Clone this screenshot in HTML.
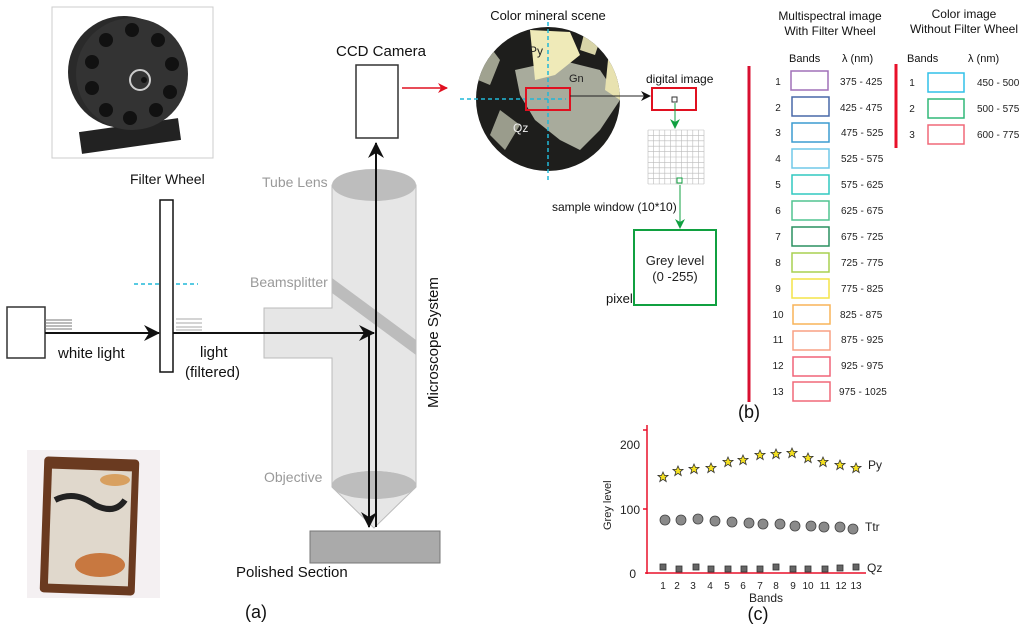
<!DOCTYPE html>
<html><head><meta charset="utf-8"><style>
html,body{margin:0;padding:0;background:#fff;}
svg{display:block;font-family:"Liberation Sans",sans-serif;}
</style></head><body>
<svg width="1024" height="633" viewBox="0 0 1024 633" xmlns="http://www.w3.org/2000/svg">
<defs>
<marker id="ab" markerWidth="10" markerHeight="10" refX="9" refY="5" orient="auto" markerUnits="userSpaceOnUse"><path d="M0,0 L10,5 L0,10 L3,5 z" fill="#111"/></marker>
<marker id="ab2" markerWidth="16" markerHeight="16" refX="15" refY="8" orient="auto" markerUnits="userSpaceOnUse"><path d="M0,0 L16,8 L0,16 L5,8 z" fill="#111"/></marker>
<marker id="ar" markerWidth="10" markerHeight="10" refX="9" refY="5" orient="auto" markerUnits="userSpaceOnUse"><path d="M0,0 L10,5 L0,10 L3,5 z" fill="#e01020"/></marker>
<marker id="ag" markerWidth="10" markerHeight="10" refX="9" refY="5" orient="auto" markerUnits="userSpaceOnUse"><path d="M0,0 L10,5 L0,10 L3,5 z" fill="#10a040"/></marker>
<clipPath id="cc"><circle cx="548" cy="99" r="72"/></clipPath>
</defs>

<!-- Filter wheel photo -->
<rect x="52" y="7" width="161" height="151" fill="#fff" stroke="#ccc"/>
<rect x="80" y="125" width="100" height="22" fill="#222" transform="rotate(-8 130 136)"/>
<circle cx="124" cy="72" r="56" fill="#2a2a2a"/>
<circle cx="132" cy="74" r="56" fill="#333"/>
<g fill="#111">
<circle cx="132" cy="30" r="7"/><circle cx="158" cy="40" r="7"/><circle cx="172" cy="64" r="7"/><circle cx="170" cy="92" r="7"/><circle cx="156" cy="110" r="7"/><circle cx="130" cy="118" r="7"/><circle cx="106" cy="110" r="7"/><circle cx="92" cy="88" r="7"/><circle cx="92" cy="62" r="7"/><circle cx="106" cy="40" r="7"/></g>
<circle cx="140" cy="80" r="10" fill="none" stroke="#ccc" stroke-width="2"/>
<circle cx="144" cy="80" r="3" fill="#111"/>

<!-- light source -->
<rect x="7" y="307" width="38" height="51" fill="#fff" stroke="#333" stroke-width="1.5"/>
<g stroke="#777" stroke-width="1"><line x1="45" y1="320" x2="72" y2="320"/><line x1="45" y1="323" x2="72" y2="323"/><line x1="45" y1="326" x2="72" y2="326"/><line x1="45" y1="329" x2="72" y2="329"/></g>
<line x1="45" y1="333" x2="159" y2="333" stroke="#111" stroke-width="2" marker-end="url(#ab2)"/>
<text x="58" y="358" font-size="15" fill="#111">white light</text>
<text x="130" y="184" font-size="14" fill="#111">Filter Wheel</text>
<line x1="134" y1="284" x2="198" y2="284" stroke="#20b8d8" stroke-width="1.5" stroke-dasharray="4,3"/>
<rect x="160" y="200" width="13" height="172" fill="#fff" stroke="#111" stroke-width="1.5"/>
<g stroke="#aaa"><line x1="176" y1="319" x2="202" y2="319"/><line x1="176" y1="323" x2="202" y2="323"/><line x1="176" y1="327" x2="202" y2="327"/><line x1="176" y1="330" x2="202" y2="330"/></g>
<text x="200" y="357" font-size="15" fill="#111">light</text>
<text x="185" y="377" font-size="15" fill="#111">(filtered)</text>

<!-- microscope -->
<path d="M332,185 L416,185 L416,487 L374,528 L332,487 L332,358 L264,358 L264,308 L332,308 Z" fill="#e6e6e6" stroke="#bbb"/>
<ellipse cx="374" cy="185" rx="42" ry="16" fill="#bdbdbd"/>
<path d="M332,487 A42,16 0 0 1 416,487 L416,487 A42,8 0 0 1 332,487" fill="#bdbdbd"/>
<ellipse cx="374" cy="485" rx="42" ry="14" fill="#bdbdbd"/>
<polygon points="332,278 416,340 416,355 332,293" fill="#bcbcbc"/>
<text x="262" y="187" font-size="14" fill="#999">Tube Lens</text>
<text x="250" y="287" font-size="14" fill="#999">Beamsplitter</text>
<text x="264" y="482" font-size="14" fill="#999">Objective</text>
<text transform="translate(438,408) rotate(-90)" font-size="15" fill="#111">Microscope System</text>
<line x1="173" y1="333" x2="374" y2="333" stroke="#111" stroke-width="2" marker-end="url(#ab2)"/>
<line x1="376" y1="527" x2="376" y2="143" stroke="#111" stroke-width="2" marker-end="url(#ab2)"/>
<line x1="369" y1="333" x2="369" y2="527" stroke="#111" stroke-width="2" marker-end="url(#ab2)"/>
<rect x="310" y="531" width="130" height="32" fill="#aaa" stroke="#777"/>
<rect x="356" y="65" width="42" height="73" fill="#fff" stroke="#333" stroke-width="1.5"/>
<text x="381" y="56" font-size="15" fill="#111" text-anchor="middle">CCD Camera</text>
<line x1="402" y1="88" x2="447" y2="88" stroke="#e01020" stroke-width="1.5" marker-end="url(#ar)"/>

<!-- polished section photo -->
<rect x="27" y="450" width="133" height="148" fill="#f4f0f2"/>
<rect x="42" y="458" width="95" height="136" rx="4" fill="#6a3a20" transform="rotate(2 90 526)"/>
<rect x="50" y="470" width="80" height="115" fill="#e0d8cc" transform="rotate(2 90 526)"/>
<path d="M55,500 q20,-10 40,5 q20,10 30,-5" stroke="#222" stroke-width="6" fill="none"/>
<ellipse cx="100" cy="565" rx="25" ry="12" fill="#c87840"/>
<ellipse cx="115" cy="480" rx="15" ry="6" fill="#d8a060"/>
<text x="236" y="577" font-size="15" fill="#111">Polished Section</text>
<text x="245" y="618" font-size="18" fill="#111">(a)</text>

<!-- mineral scene -->
<text x="548" y="20" font-size="13" fill="#111" text-anchor="middle">Color mineral scene</text>
<g clip-path="url(#cc)">
<rect x="470" y="20" width="160" height="160" fill="#1e1e1c"/>
<polygon points="515,70 560,60 600,70 620,100 600,130 580,150 560,140 535,120 520,95" fill="#a8ab9c"/>
<polygon points="530,30 570,32 580,55 555,75 535,80" fill="#efeab8"/>
<polygon points="485,40 500,60 490,85 478,80" fill="#a0a290"/>
<polygon points="610,40 625,60 620,100 605,90" fill="#e8e2b0"/>
<polygon points="500,110 520,125 505,150 490,135" fill="#9a9c8c"/>
<polygon points="585,30 600,40 595,55 580,50" fill="#d8d4a8"/>
</g>
<text x="529" y="55" font-size="12" fill="#222">Py</text>
<text x="569" y="82" font-size="11" fill="#222">Gn</text>
<text x="513" y="132" font-size="12" fill="#eee">Qz</text>
<line x1="548" y1="22" x2="548" y2="182" stroke="#20b8d8" stroke-width="1.5" stroke-dasharray="4,3"/>
<line x1="460" y1="99" x2="566" y2="99" stroke="#20b8d8" stroke-width="1.5" stroke-dasharray="4,3"/>
<rect x="526" y="88" width="44" height="22" fill="none" stroke="#e01020" stroke-width="2"/>
<line x1="570" y1="96" x2="650" y2="96" stroke="#222" stroke-width="1" marker-end="url(#ab)"/>
<text x="646" y="83" font-size="12" fill="#111">digital image</text>
<rect x="652" y="88" width="44" height="22" fill="none" stroke="#e01020" stroke-width="2"/>
<rect x="672" y="97" width="5" height="5" fill="none" stroke="#333"/>
<line x1="675" y1="103" x2="675" y2="128" stroke="#10a040" stroke-width="1" marker-end="url(#ag)"/>
<g stroke="#bbb" stroke-width="0.6">
<path d="M648,130 h56 M648,135.4 h56 M648,140.8 h56 M648,146.2 h56 M648,151.6 h56 M648,157 h56 M648,162.4 h56 M648,167.8 h56 M648,173.2 h56 M648,178.6 h56 M648,184 h56"/>
<path d="M648,130 v54 M653.6,130 v54 M659.2,130 v54 M664.8,130 v54 M670.4,130 v54 M676,130 v54 M681.6,130 v54 M687.2,130 v54 M692.8,130 v54 M698.4,130 v54 M704,130 v54"/>
</g>
<rect x="677" y="178" width="5" height="5" fill="#fff" stroke="#10a040"/>
<line x1="680" y1="185" x2="680" y2="228" stroke="#10a040" stroke-width="1" marker-end="url(#ag)"/>
<text x="552" y="211" font-size="12" fill="#111">sample window (10*10)</text>
<rect x="634" y="230" width="82" height="75" fill="#fff" stroke="#10a040" stroke-width="2"/>
<text x="675" y="265" font-size="13" fill="#222" text-anchor="middle">Grey level</text>
<text x="675" y="281" font-size="13" fill="#222" text-anchor="middle">(0 -255)</text>
<text x="606" y="303" font-size="13" fill="#111">pixel</text>

<!-- (b) -->
<text x="830" y="20" font-size="12" fill="#111" text-anchor="middle">Multispectral image</text>
<text x="830" y="35" font-size="12" fill="#111" text-anchor="middle">With Filter Wheel</text>
<text x="964" y="18" font-size="12" fill="#111" text-anchor="middle">Color image</text>
<text x="964" y="33" font-size="12" fill="#111" text-anchor="middle">Without Filter Wheel</text>
<text x="789" y="62" font-size="11" fill="#111">Bands</text>
<text x="842" y="62" font-size="11" fill="#111">λ (nm)</text>
<text x="907" y="62" font-size="11" fill="#111">Bands</text>
<text x="968" y="62" font-size="11" fill="#111">λ (nm)</text>
<line x1="749" y1="66" x2="749" y2="402" stroke="#d81030" stroke-width="3"/>
<line x1="896" y1="64" x2="896" y2="148" stroke="#e8102a" stroke-width="3"/>
<g font-size="10" fill="#222">
<text x="778" y="85" text-anchor="middle">1</text><rect x="791" y="71" width="37" height="19" fill="none" stroke="#a070b8" stroke-width="1.5"/><text x="840" y="85">375 - 425</text>
<text x="778" y="111" text-anchor="middle">2</text><rect x="792" y="97" width="37" height="19" fill="none" stroke="#4868a8" stroke-width="1.5"/><text x="840" y="111">425 - 475</text>
<text x="778" y="136" text-anchor="middle">3</text><rect x="792" y="123" width="37" height="19" fill="none" stroke="#3c9cd0" stroke-width="1.5"/><text x="841" y="136">475 - 525</text>
<text x="778" y="162" text-anchor="middle">4</text><rect x="792" y="149" width="37" height="19" fill="none" stroke="#70c8e8" stroke-width="1.5"/><text x="841" y="162">525 - 575</text>
<text x="778" y="188" text-anchor="middle">5</text><rect x="792" y="175" width="37" height="19" fill="none" stroke="#30c8c0" stroke-width="1.5"/><text x="841" y="188">575 - 625</text>
<text x="778" y="214" text-anchor="middle">6</text><rect x="792" y="201" width="37" height="19" fill="none" stroke="#50c490" stroke-width="1.5"/><text x="841" y="214">625 - 675</text>
<text x="778" y="240" text-anchor="middle">7</text><rect x="792" y="227" width="37" height="19" fill="none" stroke="#2a9060" stroke-width="1.5"/><text x="841" y="240">675 - 725</text>
<text x="778" y="266" text-anchor="middle">8</text><rect x="792" y="253" width="37" height="19" fill="none" stroke="#a8d050" stroke-width="1.5"/><text x="841" y="266">725 - 775</text>
<text x="778" y="292" text-anchor="middle">9</text><rect x="792" y="279" width="37" height="19" fill="none" stroke="#f4e448" stroke-width="1.5"/><text x="841" y="292">775 - 825</text>
<text x="778" y="318" text-anchor="middle">10</text><rect x="793" y="305" width="37" height="19" fill="none" stroke="#f8b458" stroke-width="1.5"/><text x="840" y="318">825 - 875</text>
<text x="778" y="343" text-anchor="middle">11</text><rect x="793" y="331" width="37" height="19" fill="none" stroke="#f8a084" stroke-width="1.5"/><text x="841" y="343">875 - 925</text>
<text x="778" y="369" text-anchor="middle">12</text><rect x="793" y="357" width="37" height="19" fill="none" stroke="#f06478" stroke-width="1.5"/><text x="841" y="369">925 - 975</text>
<text x="778" y="395" text-anchor="middle">13</text><rect x="793" y="382" width="37" height="19" fill="none" stroke="#f06878" stroke-width="1.5"/><text x="839" y="395">975 - 1025</text>
<text x="912" y="86" text-anchor="middle">1</text><rect x="928" y="73" width="36" height="19" fill="none" stroke="#30c0e8" stroke-width="1.5"/><text x="977" y="86">450 - 500</text>
<text x="912" y="112" text-anchor="middle">2</text><rect x="928" y="99" width="36" height="19" fill="none" stroke="#30b878" stroke-width="1.5"/><text x="977" y="112">500 - 575</text>
<text x="912" y="138" text-anchor="middle">3</text><rect x="928" y="125" width="36" height="19" fill="none" stroke="#f06878" stroke-width="1.5"/><text x="977" y="138">600 - 775</text>
</g>
<text x="738" y="418" font-size="18" fill="#111">(b)</text>

<!-- (c) chart -->
<line x1="647" y1="425" x2="647" y2="574" stroke="#e8102a" stroke-width="1.5"/>
<line x1="645" y1="573" x2="866" y2="573" stroke="#e8102a" stroke-width="1.5"/>
<line x1="643" y1="509" x2="647" y2="509" stroke="#e8102a" stroke-width="1.5"/>
<line x1="643" y1="430" x2="647" y2="430" stroke="#e8102a" stroke-width="1.5"/>
<g font-size="12" fill="#222">
<text x="640" y="449" text-anchor="end">200</text>
<text x="640" y="514" text-anchor="end">100</text>
<text x="636" y="578" text-anchor="end">0</text>
<text transform="translate(611,530) rotate(-90)" font-size="11">Grey level</text>
<text x="868" y="469">Py</text>
<text x="865" y="531">Ttr</text>
<text x="867" y="572">Qz</text>
<text x="766" y="602" text-anchor="middle">Bands</text>
</g>
<g font-size="10" fill="#222" text-anchor="middle">
<text x="663" y="589">1</text><text x="677" y="589">2</text><text x="693" y="589">3</text><text x="710" y="589">4</text><text x="727" y="589">5</text><text x="743" y="589">6</text><text x="760" y="589">7</text><text x="776" y="589">8</text><text x="793" y="589">9</text><text x="808" y="589">10</text><text x="825" y="589">11</text><text x="841" y="589">12</text><text x="856" y="589">13</text>
</g>
<text x="758" y="620" font-size="18" fill="#111" text-anchor="middle">(c)</text>
<g fill="#f4e020" stroke="#333" stroke-width="0.8">
<polygon points="0,-5 1.5,-1.6 5,-1.6 2.2,0.8 3.2,4.5 0,2.3 -3.2,4.5 -2.2,0.8 -5,-1.6 -1.5,-1.6" transform="translate(663,477)"/>
<polygon points="0,-5 1.5,-1.6 5,-1.6 2.2,0.8 3.2,4.5 0,2.3 -3.2,4.5 -2.2,0.8 -5,-1.6 -1.5,-1.6" transform="translate(678,471)"/>
<polygon points="0,-5 1.5,-1.6 5,-1.6 2.2,0.8 3.2,4.5 0,2.3 -3.2,4.5 -2.2,0.8 -5,-1.6 -1.5,-1.6" transform="translate(694,469)"/>
<polygon points="0,-5 1.5,-1.6 5,-1.6 2.2,0.8 3.2,4.5 0,2.3 -3.2,4.5 -2.2,0.8 -5,-1.6 -1.5,-1.6" transform="translate(711,468)"/>
<polygon points="0,-5 1.5,-1.6 5,-1.6 2.2,0.8 3.2,4.5 0,2.3 -3.2,4.5 -2.2,0.8 -5,-1.6 -1.5,-1.6" transform="translate(728,462)"/>
<polygon points="0,-5 1.5,-1.6 5,-1.6 2.2,0.8 3.2,4.5 0,2.3 -3.2,4.5 -2.2,0.8 -5,-1.6 -1.5,-1.6" transform="translate(743,460)"/>
<polygon points="0,-5 1.5,-1.6 5,-1.6 2.2,0.8 3.2,4.5 0,2.3 -3.2,4.5 -2.2,0.8 -5,-1.6 -1.5,-1.6" transform="translate(760,455)"/>
<polygon points="0,-5 1.5,-1.6 5,-1.6 2.2,0.8 3.2,4.5 0,2.3 -3.2,4.5 -2.2,0.8 -5,-1.6 -1.5,-1.6" transform="translate(776,454)"/>
<polygon points="0,-5 1.5,-1.6 5,-1.6 2.2,0.8 3.2,4.5 0,2.3 -3.2,4.5 -2.2,0.8 -5,-1.6 -1.5,-1.6" transform="translate(792,453)"/>
<polygon points="0,-5 1.5,-1.6 5,-1.6 2.2,0.8 3.2,4.5 0,2.3 -3.2,4.5 -2.2,0.8 -5,-1.6 -1.5,-1.6" transform="translate(808,458)"/>
<polygon points="0,-5 1.5,-1.6 5,-1.6 2.2,0.8 3.2,4.5 0,2.3 -3.2,4.5 -2.2,0.8 -5,-1.6 -1.5,-1.6" transform="translate(823,462)"/>
<polygon points="0,-5 1.5,-1.6 5,-1.6 2.2,0.8 3.2,4.5 0,2.3 -3.2,4.5 -2.2,0.8 -5,-1.6 -1.5,-1.6" transform="translate(840,465)"/>
<polygon points="0,-5 1.5,-1.6 5,-1.6 2.2,0.8 3.2,4.5 0,2.3 -3.2,4.5 -2.2,0.8 -5,-1.6 -1.5,-1.6" transform="translate(856,468)"/>
</g>
<g fill="#8a8a8a" stroke="#444" stroke-width="0.8">
<circle cx="665" cy="520" r="5"/><circle cx="681" cy="520" r="5"/><circle cx="698" cy="519" r="5"/><circle cx="715" cy="521" r="5"/><circle cx="732" cy="522" r="5"/><circle cx="749" cy="523" r="5"/><circle cx="763" cy="524" r="5"/><circle cx="780" cy="524" r="5"/><circle cx="795" cy="526" r="5"/><circle cx="811" cy="526" r="5"/><circle cx="824" cy="527" r="5"/><circle cx="840" cy="527" r="5"/><circle cx="853" cy="529" r="5"/>
</g>
<g fill="#666" stroke="#333" stroke-width="0.8">
<rect x="660" y="564" width="6" height="6"/><rect x="676" y="566" width="6" height="6"/><rect x="693" y="564" width="6" height="6"/><rect x="708" y="566" width="6" height="6"/><rect x="725" y="566" width="6" height="6"/><rect x="741" y="566" width="6" height="6"/><rect x="757" y="566" width="6" height="6"/><rect x="773" y="564" width="6" height="6"/><rect x="790" y="566" width="6" height="6"/><rect x="805" y="566" width="6" height="6"/><rect x="822" y="566" width="6" height="6"/><rect x="837" y="565" width="6" height="6"/><rect x="853" y="564" width="6" height="6"/>
</g>
</svg>
</body></html>
